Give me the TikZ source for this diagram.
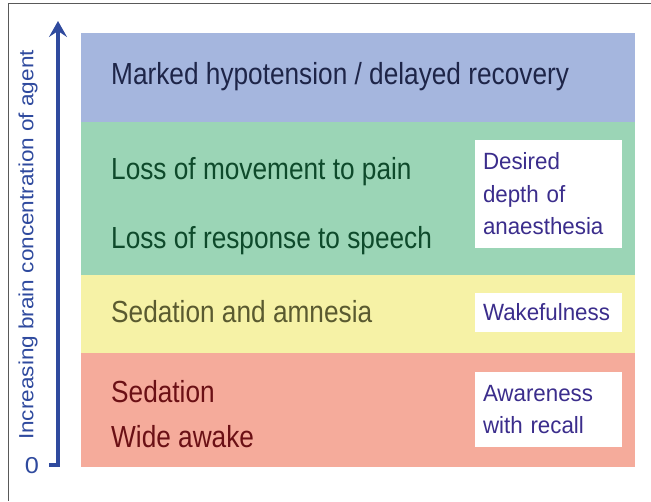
\documentclass[tikz,border=0pt]{standalone}
\usepackage{fontspec}
\setmainfont[FakeStretch=0.86]{Liberation Sans}
\newfontfamily\boxfont[FakeStretch=0.95]{Liberation Sans}
\newfontfamily\axisfont[FakeStretch=1.1]{Liberation Sans}
\usetikzlibrary{arrows.meta}

\definecolor{bandblue}{HTML}{A5B6DE}
\definecolor{bandgreen}{HTML}{9BD5B6}
\definecolor{bandyellow}{HTML}{F6F2A6}
\definecolor{bandred}{HTML}{F5AB9B}
\definecolor{txtblue}{HTML}{1E2548}
\definecolor{txtgreen}{HTML}{0E4A2B}
\definecolor{txtyellow}{HTML}{5A5A30}
\definecolor{txtred}{HTML}{6B1015}
\definecolor{txtbox}{HTML}{3B2D8C}
\definecolor{axisblue}{HTML}{2F4A9E}

\tikzset{
  level/.style={anchor=base west, inner sep=0pt, font=\fontsize{30.5}{34}\selectfont},
  infobox/.style={fill=white, inner xsep=8pt, inner ysep=0pt, align=left,
    text width=131pt, text=txtbox, font=\boxfont\fontsize{23.5}{32.5}\selectfont},
}

\begin{document}
\begin{tikzpicture}[x=1pt, y=-1pt]
			
			% Page
			\useasboundingbox (0,0) rectangle (651,501);
			\draw[black!65, line width=0.8pt] (651,3) -- (8,3) -- (8,501);
			
			% Bands
			\def\xl{81}
			\def\xr{635}
			\fill[bandblue]   (\xl,33)  rectangle (\xr,122);
			\fill[bandgreen]  (\xl,122) rectangle (\xr,275);
			\fill[bandyellow] (\xl,275) rectangle (\xr,353);
			\fill[bandred]    (\xl,353) rectangle (\xr,467);
			
			% Axis
			\coordinate (tick) at (49,465);
			\coordinate (base) at (58,465);
			\coordinate (tip)  at (58,21);
			\draw[axisblue, line width=3.5pt, -{Stealth[length=16pt, width=18pt, inset=6pt]}] (tick) -- (base) -- (tip);
			\node[axisblue, font=\axisfont\fontsize{23}{26}\selectfont, inner sep=0pt] (zero) at (32,466) {0};
			\node[axisblue, rotate=90, font=\axisfont\fontsize{20.5}{24}\selectfont, inner sep=0pt] (concentration) at (28,245) {Increasing brain concentration of agent};
			
			% Band texts
			\node[level, text=txtblue]   (hypotension) at (111,84)  {Marked hypotension / delayed recovery};
			\node[level, text=txtgreen]  (movement)    at (111,179) {Loss of movement to pain};
			\node[level, text=txtgreen]  (speech)      at (111,248) {Loss of response to speech};
			\node[level, text=txtyellow] (amnesia)     at (111,322) {Sedation and amnesia};
			\node[level, text=txtred]    (sedation)    at (111,402) {Sedation};
			\node[level, text=txtred]    (awake)       at (111,447) {Wide awake};
			
			% Boxes on the right
			\node[infobox, minimum height=108pt] (desired)   at (548.5,194) {Desired\\depth of\\anaesthesia};
			\node[infobox, minimum height=39pt]  (wakeful)   at (548.5,312.5) {Wakefulness};
			\node[infobox, minimum height=75pt]  (awareness) at (548.5,409.5) {Awareness\\with recall};
			
		\end{tikzpicture}
\end{document}
